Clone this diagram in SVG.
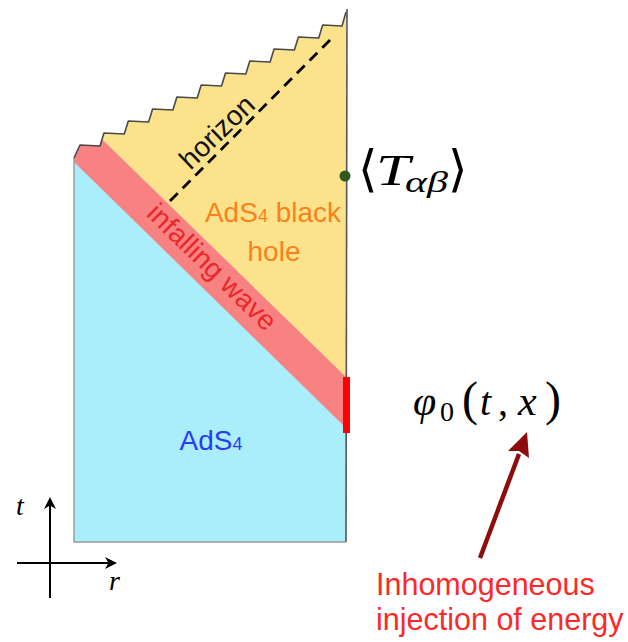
<svg xmlns="http://www.w3.org/2000/svg" width="628" height="642" viewBox="0 0 628 642">
<defs>
<style>
.lbl{font-family:"Liberation Sans",Arial,sans-serif}
.math{font-family:"Liberation Serif","DejaVu Serif",serif}
.it{font-style:italic}
.br{font-family:"DejaVu Sans",sans-serif;font-size:50px}
</style>
<clipPath id="st">
<path d="M74,158 L80,145 L100,146 L104,133 L124.3,134 L128.3,121 L148.6,122 L152.6,109 L172.9,110 L176.9,97 L197.2,98 L201.2,85 L221.5,86 L225.5,73 L245.8,74 L249.8,61 L270.1,62 L274.1,49 L294.4,50 L298.4,37 L318.7,38 L322.7,25 L342,26 L346,12 L346,542 L74,542 Z"/>
</clipPath>
<marker id="ax" viewBox="0 0 12 12" refX="10" refY="6" markerWidth="12" markerHeight="12" markerUnits="userSpaceOnUse" orient="auto">
<path d="M0,0 L12,6 L0,12 L3.5,6 Z" fill="#000"/>
</marker>
</defs>
<rect width="628" height="642" fill="#fff"/>

<g id="spacetime">
<g clip-path="url(#st)">
<rect x="70" y="0" width="280" height="545" fill="#aaeefc"/>
<polygon points="70,108 350,381 350,0 70,0" fill="#fde28c"/>
<polygon points="70,108 350,381 350,432 70,158" fill="#f88282"/>
</g>
<path d="M74,158 L80,145 L100,146 L104,133 L124.3,134 L128.3,121 L148.6,122 L152.6,109 L172.9,110 L176.9,97 L197.2,98 L201.2,85 L221.5,86 L225.5,73 L245.8,74 L249.8,61 L270.1,62 L274.1,49 L294.4,50 L298.4,37 L318.7,38 L322.7,25 L342,26 L346,12" fill="none" stroke="#4a4a4a" stroke-width="1.6" stroke-linejoin="round"/>
<path d="M347,9 L346,542" fill="none" stroke="#555" stroke-width="1.6"/>
<path d="M74,158 L74,542 L346,542" fill="none" stroke="#999" stroke-width="1.4"/>
<rect x="343" y="377" width="7" height="56" fill="#ff0000"/>
<circle cx="345" cy="176" r="5.5" fill="#2f5a1f"/>
</g>

<g id="horizon">
<line x1="170" y1="201" x2="335" y2="35" stroke="#000" stroke-width="2.8" stroke-dasharray="11 7"/>
<text class="lbl" transform="translate(218,133) rotate(-44)" x="0" y="8" text-anchor="middle" font-size="28" fill="#111">horizon</text>
</g>

<g id="infalling-wave">
<text class="lbl" transform="translate(211,268) rotate(44.3)" x="0" y="8" text-anchor="middle" font-size="28" fill="#e8282a">infalling wave</text>
</g>

<g id="black-hole-label">
<text class="lbl" x="273" y="222" text-anchor="middle" font-size="28" fill="#f7821b">AdS<tspan font-size="18">4</tspan> black</text>
<text class="lbl" x="274" y="261" text-anchor="middle" font-size="28" fill="#f7821b">hole</text>
</g>

<g id="ads-label">
<text class="lbl" x="211" y="450" text-anchor="middle" font-size="28" fill="#2b3df0">AdS<tspan font-size="18">4</tspan></text>
</g>

<g id="stress-tensor" class="math">
<text class="br" x="358" y="186" fill="#000">⟨</text>
<text x="376" y="185" font-size="44" class="it" textLength="34" lengthAdjust="spacingAndGlyphs" fill="#000">T</text>
<text x="405" y="192" font-size="29" class="it" textLength="43" lengthAdjust="spacingAndGlyphs" fill="#000">αβ</text>
<text class="br" x="448" y="186" fill="#000">⟩</text>
</g>

<g id="source" class="math">
<text x="413" y="415" font-size="42" class="it" fill="#000">φ</text>
<text x="440" y="421" font-size="28" fill="#000">0</text>
<text x="462" y="415" font-size="48" fill="#000">(</text>
<text x="480" y="415" font-size="40" class="it" fill="#000">t</text>
<text x="498" y="415" font-size="40" fill="#000">,</text>
<text x="518" y="415" font-size="42" class="it" fill="#000">x</text>
<text x="545" y="415" font-size="48" fill="#000">)</text>
</g>

<g id="injection-label">
<text class="lbl" x="376" y="595" font-size="30.5" fill="#fa2a2a">Inhomogeneous</text>
<text class="lbl" x="376" y="630" font-size="30.5" fill="#fa2a2a">injection of energy</text>
</g>

<g id="axes">
<line x1="50" y1="598" x2="50" y2="499" stroke="#000" stroke-width="2" marker-end="url(#ax)"/>
<line x1="17" y1="563" x2="115" y2="563" stroke="#000" stroke-width="2" marker-end="url(#ax)"/>
<text x="16" y="515" font-size="28" class="math it" fill="#000">t</text>
<text x="109" y="590" font-size="28" class="math it" fill="#000">r</text>
</g>

<g id="connectors">
<line x1="480" y1="558" x2="519" y2="454" stroke="#8e0c0c" stroke-width="4.5"/>
<path d="M527,432 L529,458 L519,451 L508,451 Z" fill="#8e0c0c"/>
</g>
</svg>
